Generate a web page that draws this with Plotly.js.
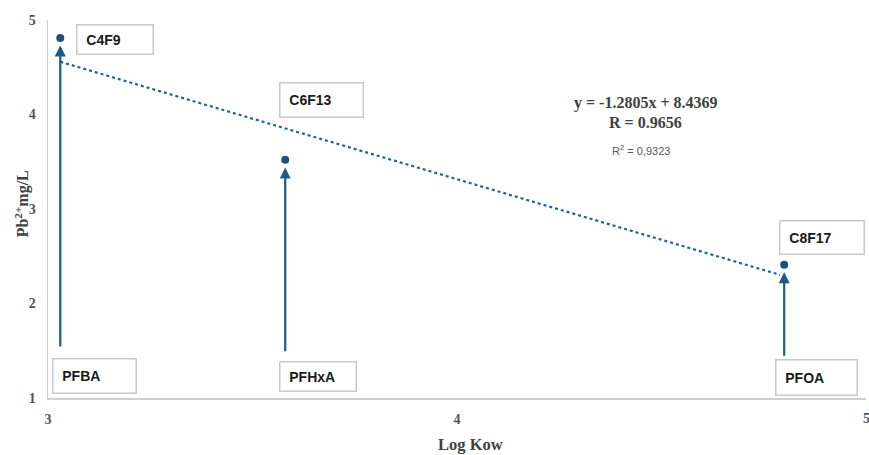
<!DOCTYPE html>
<html><head><meta charset="utf-8">
<script src="https://cdn.plot.ly/plotly-3.0.1.min.js"></script>
<style>html,body{margin:0;padding:0;background:#fff}#c{width:869px;height:455px}</style>
</head><body><div id="c"></div>
<script>
// Data
const compounds = ['C4F9', 'C6F13', 'C8F17'];
const acids = ['PFBA', 'PFHxA', 'PFOA'];
const logKow = [3.03, 3.58, 4.80];
const pbConc = [4.81, 3.52, 2.41];
const trendX = [3.03, 4.79];
const trendY = [4.558, 2.303];
const equationText = 'y = -1.2805x + 8.4369';
const rText = 'R = 0.9656';
const r2Text = 'R<sup>2</sup> = 0,9323';
const xTicks = [3, 4];
const xEdgeTick = 5;
const yTicks = [1, 2, 3, 4, 5];

const blue = '#1d5a8a';
const serif = 'Liberation Serif, Times New Roman, serif';
const sans = 'Liberation Sans, Arial, sans-serif';
const tickFont = {family: serif, size: 14, color: '#555', weight: 'bold'};

const traces = [
  { x: trendX, y: trendY, mode: 'lines', line: {color: '#1f6594', width: 2.2, dash: 'dot'}, hoverinfo: 'skip' },
  { x: logKow, y: pbConc, mode: 'markers', marker: {color: '#1b4f7c', size: 8} }
];

const annotations = [];
// arrows from acid label up to the point
const arrowBase = [1.53, 1.48, 1.43];
logKow.forEach((x, i) => {
  annotations.push({ x: x, y: pbConc[i] - 0.08, ax: x, ay: arrowBase[i], xref: 'x', yref: 'y', axref: 'x', ayref: 'y',
    text: '', showarrow: true, arrowhead: 2, arrowsize: 1.0, arrowwidth: 2.2, arrowcolor: blue });
});
// label boxes: [text, left x, top y, width px, height px]
const boxes = [
  [compounds[0], 3.068, 4.958, 78, 31],
  [compounds[1], 3.565, 4.344, 85, 36],
  [compounds[2], 4.787, 2.884, 86, 35],
  [acids[0], 3.010, 1.423, 85, 36],
  [acids[1], 3.565, 1.392, 78, 31],
  [acids[2], 4.778, 1.413, 83, 37]
];
boxes.forEach(b => {
  annotations.push({ x: b[1], y: b[2], xref: 'x', yref: 'y', xanchor: 'left', yanchor: 'top', showarrow: false,
    text: '&nbsp;&nbsp;<b>' + b[0] + '</b>', align: 'left', valign: 'middle', width: b[3] - 5, height: b[4] - 5,
    borderpad: 1, bordercolor: '#c9c9c9', borderwidth: 1.5, bgcolor: 'rgba(255,255,255,0)',
    font: {family: sans, size: 14, color: '#1a1a1a'} });
});
annotations.push({ x: 4.462, y: 4.12, xref: 'x', yref: 'y', showarrow: false, text: '<b>' + equationText + '</b>',
  font: {family: serif, size: 16, color: '#404040'} });
annotations.push({ x: 4.462, y: 3.92, xref: 'x', yref: 'y', showarrow: false, text: '<b>' + rText + '</b>',
  font: {family: serif, size: 16, color: '#404040'} });
annotations.push({ x: 4.450, y: 3.625, xref: 'x', yref: 'y', showarrow: false, text: r2Text,
  font: {family: sans, size: 11, color: '#595959'} });
// edge tick label at x = 5 (partly outside the figure, like the reference)
annotations.push({ x: xEdgeTick, y: -0.055, xref: 'x', yref: 'paper', xanchor: 'center', yanchor: 'middle',
  showarrow: false, text: String(xEdgeTick), font: tickFont });
// axis titles
annotations.push({ x: 4.032, y: -0.124, xref: 'x', yref: 'paper', yanchor: 'middle', showarrow: false,
  text: '<b>Log Kow</b>', font: {family: serif, size: 16.5, color: '#404040'} });
annotations.push({ x: -0.0318, y: 3.06, xref: 'paper', yref: 'y', xanchor: 'center', yanchor: 'middle', textangle: -90,
  showarrow: false, text: '<b>Pb<sup>2+</sup>mg/L</b>', font: {family: serif, size: 16, color: '#404040'} });

const layout = {
  width: 869, height: 455,
  margin: {l: 48, r: 3, t: 20, b: 57},
  paper_bgcolor: '#fff', plot_bgcolor: '#fff',
  showlegend: false,
  xaxis: { range: [3, 5], tickvals: xTicks, ticktext: xTicks.map(String), showgrid: false, zeroline: false,
    showline: true, linecolor: '#cfcfcf', linewidth: 1.5, ticks: '', ticklabelstandoff: 8, tickfont: tickFont },
  yaxis: { range: [1, 5], tickvals: yTicks, ticktext: yTicks.map(String), showgrid: false, zeroline: false,
    showline: true, linecolor: '#cfcfcf', linewidth: 1.5, ticks: '', ticklabelstandoff: 8, tickfont: tickFont },
  annotations: annotations
};
Plotly.newPlot('c', traces, layout, {displayModeBar: false, staticPlot: true});
</script></body></html>
